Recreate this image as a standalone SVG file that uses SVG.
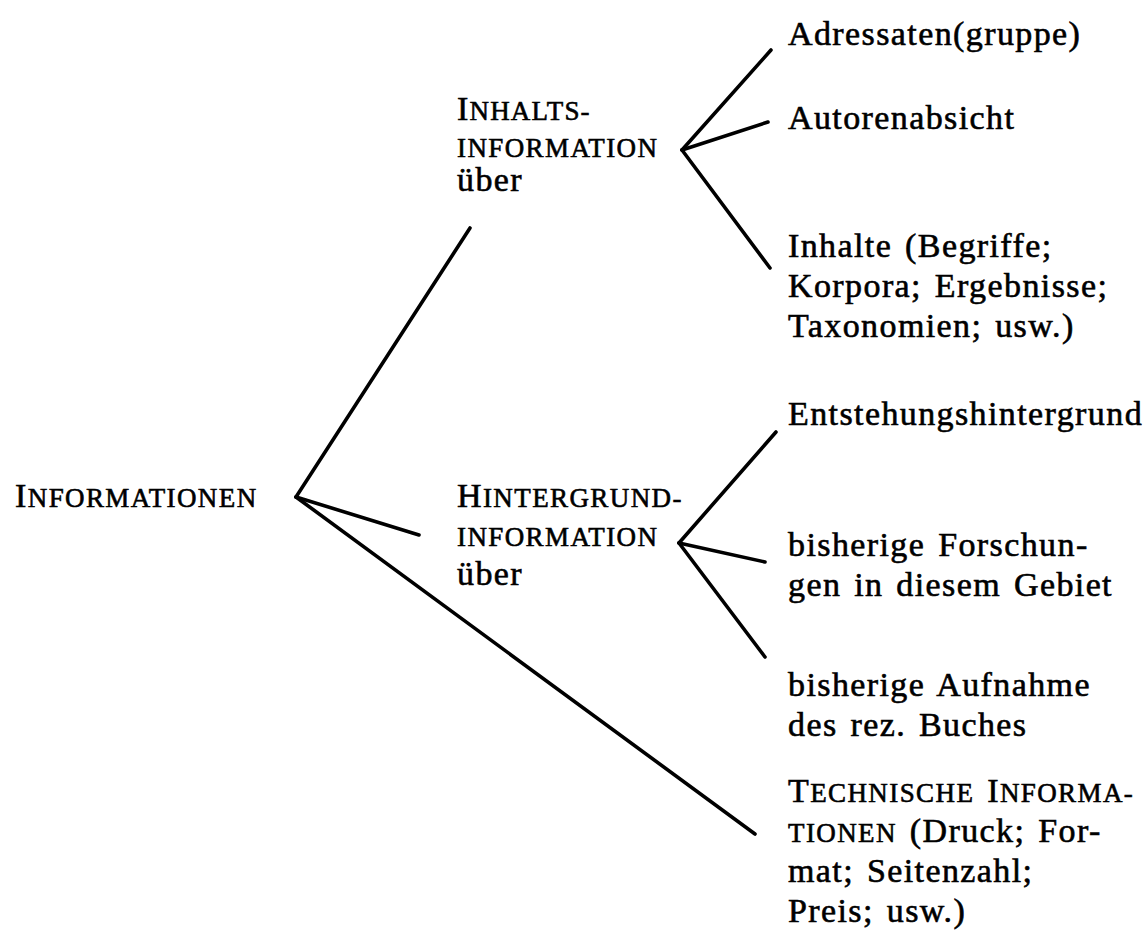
<svg xmlns="http://www.w3.org/2000/svg" width="1145" height="942" viewBox="0 0 1145 942">
  <style>
    text { font-family: "Liberation Serif", "Times New Roman", serif; font-size: 34px; fill: #000; stroke: #000; stroke-width: 0.6px; letter-spacing: 1.4px; word-spacing: 3px; }
    .sc { font-size: 27px; }
    .edge { stroke: #000; stroke-width: 3.6; stroke-linecap: round; fill: none; }
  </style>
  <rect width="1145" height="942" fill="#fff"/>

  <g id="connectors">
    <!-- root fork -->
    <line class="edge" x1="296" y1="497" x2="470" y2="228"/>
    <line class="edge" x1="296" y1="497" x2="419" y2="535"/>
    <line class="edge" x1="296" y1="497" x2="755" y2="834"/>
    <!-- content-information fork -->
    <line class="edge" x1="682" y1="150" x2="771" y2="50"/>
    <line class="edge" x1="682" y1="150" x2="768" y2="122"/>
    <line class="edge" x1="682" y1="150" x2="770" y2="268"/>
    <!-- background-information fork -->
    <line class="edge" x1="679" y1="543" x2="776" y2="432"/>
    <line class="edge" x1="679" y1="543" x2="765" y2="562"/>
    <line class="edge" x1="679" y1="543" x2="765" y2="657"/>
  </g>

  <g id="root">
    <text x="15" y="507">I<tspan class="sc">NFORMATIONEN</tspan></text>
  </g>

  <g id="inhalt">
    <text x="457" y="120" textLength="134" lengthAdjust="spacing">I<tspan class="sc">NHALTS-</tspan></text>
    <text x="457" y="157" class="sc">INFORMATION</text>
    <text x="457" y="191">über</text>
  </g>

  <g id="hintergrund">
    <text x="457" y="507">H<tspan class="sc">INTERGRUND-</tspan></text>
    <text x="457" y="546" class="sc">INFORMATION</text>
    <text x="457" y="585">über</text>
  </g>

  <g id="adressaten">
    <text x="788" y="45">Adressaten(gruppe)</text>
  </g>

  <g id="autorenabsicht">
    <text x="788" y="129">Autorenabsicht</text>
  </g>

  <g id="inhalte">
    <text x="788" y="257">Inhalte (Begriffe;</text>
    <text x="788" y="297">Korpora; Ergebnisse;</text>
    <text x="788" y="337">Taxonomien; usw.)</text>
  </g>

  <g id="entstehung">
    <text x="788" y="425">Entstehungshintergrund</text>
  </g>

  <g id="forschungen">
    <text x="788" y="556">bisherige Forschun-</text>
    <text x="788" y="596">gen in diesem Gebiet</text>
  </g>

  <g id="aufnahme">
    <text x="788" y="696">bisherige Aufnahme</text>
    <text x="788" y="736">des rez. Buches</text>
  </g>

  <g id="technisch">
    <text x="788" y="802">T<tspan class="sc">ECHNISCHE</tspan> I<tspan class="sc">NFORMA-</tspan></text>
    <text x="788" y="842"><tspan class="sc">TIONEN</tspan> (Druck; For-</text>
    <text x="788" y="882">mat; Seitenzahl;</text>
    <text x="788" y="922">Preis; usw.)</text>
  </g>
</svg>
